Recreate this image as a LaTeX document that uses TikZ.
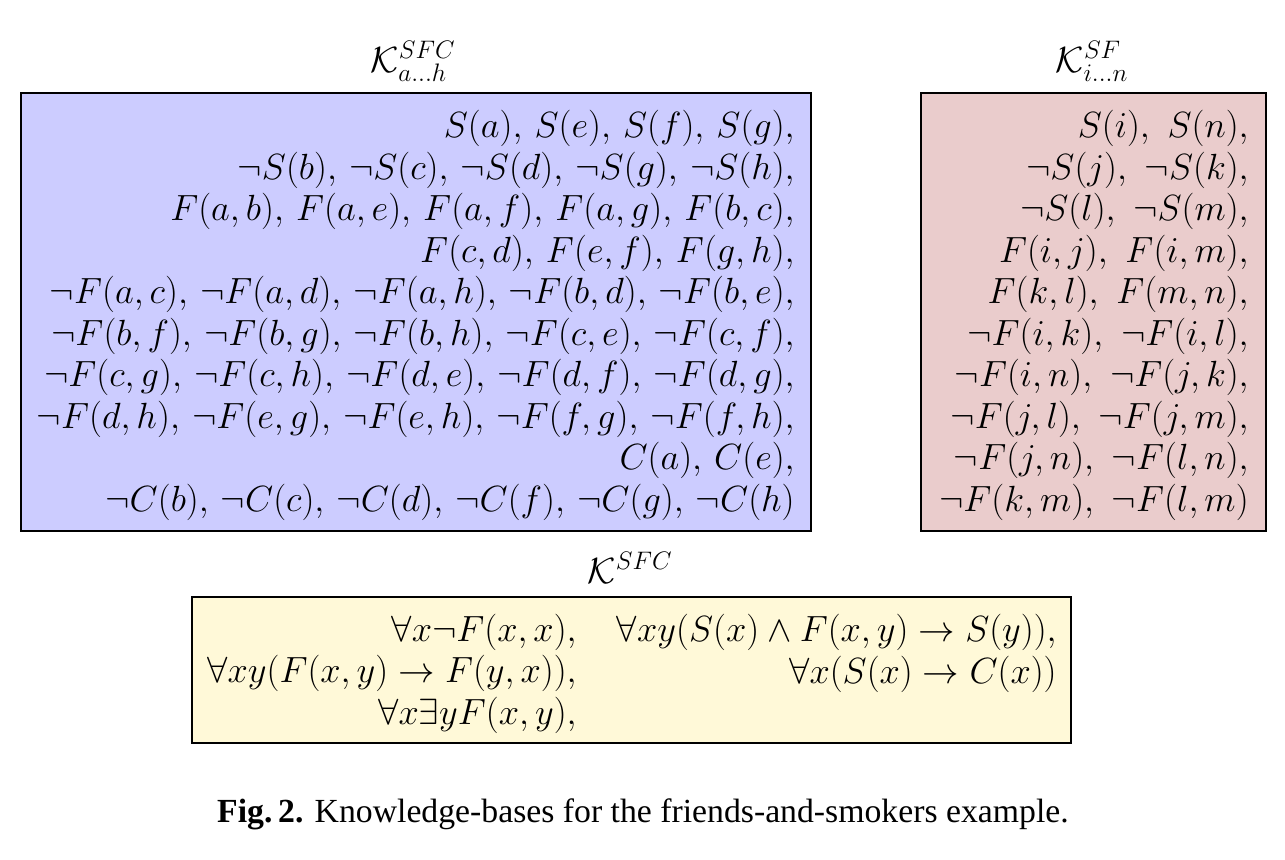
\documentclass[tikz,border=0pt]{standalone}
\usepackage{fontspec}
\newfontfamily\capfont{Liberation Serif}
\definecolor{kbblue}{RGB}{204,204,255}
\definecolor{kbpink}{RGB}{234,204,204}
\definecolor{kbyellow}{RGB}{255,249,216}
\newcommand\kbgap{\mskip3mu}
\tikzset{
  kbbox/.style={draw=black, line width=0.8pt, inner sep=0pt},
  kbtext/.style={inner sep=0pt, align=right, font=\fontsize{22.5}{23.6}\selectfont},
  kbtextl/.style={inner sep=0pt, align=right, font=\fontsize{21}{23.6}\selectfont},
  kbtextr/.style={inner sep=0pt, align=right, font=\fontsize{22}{23.6}\selectfont},
  kblabel/.style={inner sep=0pt, font=\fontsize{22.5}{24}\selectfont},
  caption/.style={inner sep=0pt, font=\capfont\fontsize{19.2}{22}\selectfont}
}
\begin{document}
\begin{tikzpicture}[x=0.02cm,y=-0.02cm]
\useasboundingbox (0,0) rectangle (1285,859);
% boxes
\path[kbbox, fill=kbblue] (21,93) rectangle (811,531);
\path[kbbox, fill=kbpink] (921,93) rectangle (1266,531);
\path[kbbox, fill=kbyellow] (192,597) rectangle (1071,743);
% labels
\node[kblabel, anchor=base] (la) at (413,72) {$\mathcal{K}^{SFC}_{a\ldots h}$};
\node[kblabel, anchor=base] (lb) at (1092,72) {$\mathcal{K}^{SF}_{i\ldots n}$};
\node[kblabel, anchor=base] (lc) at (630,583) {$\mathcal{K}^{SFC}$};
% left box text (anchor = baseline of last line)
\node[kbtextl, anchor=base east] (ta) at (795,511) {%
$S(a),\kbgap S(e),\kbgap S(f),\kbgap S(g),$\\
$\neg S(b),\kbgap \neg S(c),\kbgap \neg S(d),\kbgap \neg S(g),\kbgap \neg S(h),$\\
$F(a,b),\kbgap F(a,e),\kbgap F(a,f),\kbgap F(a,g),\kbgap F(b,c),$\\
$F(c,d),\kbgap F(e,f),\kbgap F(g,h),$\\
$\neg F(a,c),\kbgap \neg F(a,d),\kbgap \neg F(a,h),\kbgap \neg F(b,d),\kbgap \neg F(b,e),$\\
$\neg F(b,f),\kbgap \neg F(b,g),\kbgap \neg F(b,h),\kbgap \neg F(c,e),\kbgap \neg F(c,f),$\\
$\neg F(c,g),\kbgap \neg F(c,h),\kbgap \neg F(d,e),\kbgap \neg F(d,f),\kbgap \neg F(d,g),$\\
$\neg F(d,h),\kbgap \neg F(e,g),\kbgap \neg F(e,h),\kbgap \neg F(f,g),\kbgap \neg F(f,h),$\\
$C(a),\kbgap C(e),$\\
$\neg C(b),\kbgap \neg C(c),\kbgap \neg C(d),\kbgap \neg C(f),\kbgap \neg C(g),\kbgap \neg C(h)$};
% right box text
\node[kbtextr, anchor=base east] (tb) at (1249,511) {%
$S(i),\ S(n),$\\
$\neg S(j),\ \neg S(k),$\\
$\neg S(l),\ \neg S(m),$\\
$F(i,j),\ F(i,m),$\\
$F(k,l),\ F(m,n),$\\
$\neg F(i,k),\ \neg F(i,l),$\\
$\neg F(i,n),\ \neg F(j,k),$\\
$\neg F(j,l),\ \neg F(j,m),$\\
$\neg F(j,n),\ \neg F(l,n),$\\
$\neg F(k,m),\ \neg F(l,m)$};
% bottom box text
\node[kbtext, anchor=base east] (tc1) at (577,724) {%
$\forall x\neg F(x,x),$\\
$\forall xy(F(x,y)\rightarrow F(y,x)),$\\
$\forall x\exists y F(x,y),$};
\node[kbtext, anchor=base east] (tc2) at (1057,683) {%
$\forall xy(S(x)\wedge F(x,y)\rightarrow S(y)),$\\
$\forall x(S(x)\rightarrow C(x))$};
% caption
\node[caption, anchor=base] (cap) at (643,822) {\textbf{Fig.\,2.} Knowledge-bases for the friends-and-smokers example.};
\end{tikzpicture}
\end{document}
